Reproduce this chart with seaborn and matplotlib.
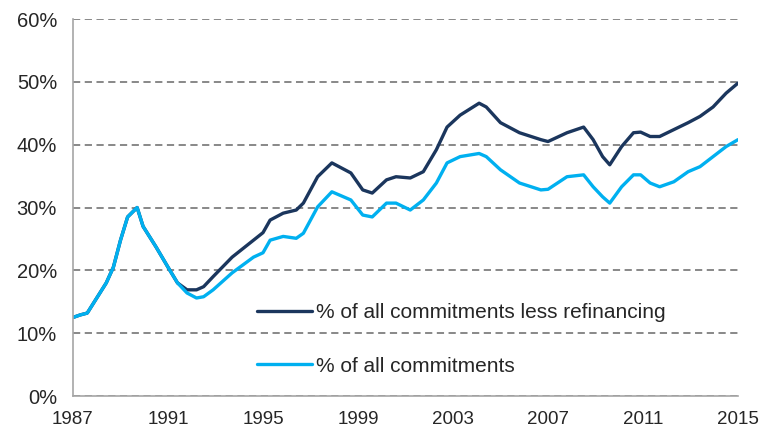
import numpy as np
import pandas as pd
import matplotlib
matplotlib.use("Agg")
import matplotlib.pyplot as plt
import seaborn as sns
from matplotlib.ticker import PercentFormatter

# values (share, %)
years = [1987.0, 1987.3, 1987.6, 1988.1, 1988.4, 1988.7, 1989.0, 1989.3, 1989.7,
         1989.95, 1990.5, 1991.0, 1991.4, 1991.8, 1992.2, 1992.5, 1992.9, 1993.7,
         1994.6, 1995.0, 1995.3, 1995.85, 1996.4, 1996.7, 1997.3, 1997.9, 1998.7,
         1999.2, 1999.6, 2000.2, 2000.6, 2001.2, 2001.75, 2002.3, 2002.75, 2003.3,
         2004.1, 2004.4, 2005.0, 2005.8, 2006.7, 2007.0, 2007.8, 2008.5, 2008.9,
         2009.3, 2009.6, 2010.1, 2010.6, 2010.9, 2011.3, 2011.7, 2012.3, 2012.9,
         2013.4, 2013.95, 2014.5, 2015.0]

less_refi = [12.5, 12.9, 13.2, 16.2, 18.0, 20.5, 24.8, 28.5, 30.0,
             27.0, 23.7, 20.5, 18.0, 16.9, 16.9, 17.4, 19.0, 22.1,
             24.8, 26.0, 28.0, 29.1, 29.6, 30.7, 34.9, 37.1, 35.5,
             32.8, 32.3, 34.4, 34.9, 34.7, 35.7, 39.2, 42.8, 44.7,
             46.6, 46.0, 43.5, 41.9, 40.8, 40.5, 41.9, 42.8, 40.8,
             38.1, 36.8, 39.7, 41.9, 42.0, 41.3, 41.3, 42.4, 43.5,
             44.5, 46.0, 48.2, 49.8]

all_commit = [12.5, 12.9, 13.2, 16.2, 18.0, 20.5, 24.8, 28.5, 30.0,
              27.0, 23.7, 20.5, 18.0, 16.4, 15.6, 15.8, 16.9, 19.6,
              22.1, 22.8, 24.8, 25.4, 25.1, 25.9, 30.1, 32.5, 31.2,
              28.8, 28.5, 30.7, 30.7, 29.6, 31.2, 33.9, 37.1, 38.1,
              38.6, 38.1, 36.0, 33.9, 32.8, 32.9, 34.9, 35.2, 33.3,
              31.7, 30.7, 33.3, 35.2, 35.2, 33.9, 33.3, 34.1, 35.7,
              36.5, 38.1, 39.7, 40.8]

label_dark = "% of all commitments less refinancing"
label_light = "% of all commitments"

df = pd.DataFrame({"year": years, label_dark: less_refi, label_light: all_commit})

sns.set_style("white")
plt.rcParams["font.family"] = ["Liberation Sans", "DejaVu Sans"]

fig = plt.figure(figsize=(7.62, 4.32), dpi=100)
ax = fig.add_axes([0.0958, 0.0833, 0.8727, 0.8727])

sns.lineplot(data=df, x="year", y=label_dark, color="#1b365d", linewidth=2.4,
             label=label_dark, ax=ax)
sns.lineplot(data=df, x="year", y=label_light, color="#00b0f0", linewidth=2.4,
             label=label_light, ax=ax)

ax.set_xlim(1987, 2015)
ax.set_ylim(0, 60)
ax.set_xticks(np.arange(1987, 2016, 4))
ax.set_yticks(np.arange(0, 61, 10))
ax.yaxis.set_major_formatter(PercentFormatter(decimals=0))
ax.set_xlabel("")
ax.set_ylabel("")

ax.grid(axis="y", linestyle=(0, (4, 2.5)), color="#7f7f7f", linewidth=1.3)
ax.grid(axis="x", visible=False)
ax.set_axisbelow(True)

for side in ["top", "right"]:
    ax.spines[side].set_visible(False)
for side in ["left", "bottom"]:
    ax.spines[side].set_color("#a6a6a6")
    ax.spines[side].set_linewidth(1.2)

ax.tick_params(axis="both", which="major", colors="#262626",
               length=4.5, width=1.2, direction="out", color="#a6a6a6")
ax.tick_params(axis="x", labelsize=13.5, pad=6.5)
ax.tick_params(axis="y", labelsize=14.5, pad=7)

ax.legend(loc="upper left", bbox_to_anchor=(0.277, 0.246), frameon=False,
          fontsize=15, handlelength=2.65, handletextpad=0.15, labelspacing=1.65,
          borderpad=0, borderaxespad=0, labelcolor="#262626")

fig.savefig("out.png", dpi=100)
